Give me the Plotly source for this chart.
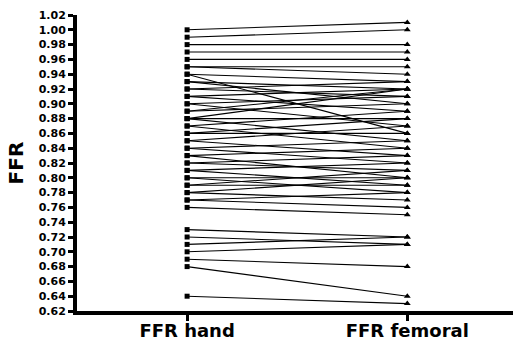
import plotly.graph_objects as go

categories = ["FFR hand", "FFR femoral"]
y_ticks = [round(0.62 + 0.02 * i, 2) for i in range(21)]

ffr_hand = [
    1.00, 0.99, 0.98, 0.97, 0.96, 0.95, 0.95, 0.94, 0.94, 0.93, 0.93,
    0.92, 0.92, 0.91, 0.91, 0.90, 0.90, 0.89, 0.89, 0.88, 0.88, 0.88,
    0.87, 0.87, 0.86, 0.86, 0.85, 0.85, 0.84, 0.84, 0.83, 0.83, 0.82,
    0.82, 0.81, 0.81, 0.80, 0.80, 0.79, 0.79, 0.78, 0.78, 0.77, 0.77,
    0.76, 0.73, 0.72, 0.71, 0.70, 0.69, 0.68, 0.64,
]
ffr_femoral = [
    1.01, 1.00, 0.98, 0.97, 0.96, 0.95, 0.94, 0.86, 0.93, 0.92, 0.90,
    0.93, 0.91, 0.92, 0.89, 0.91, 0.87, 0.90, 0.92, 0.92, 0.88, 0.85,
    0.89, 0.84, 0.88, 0.86, 0.87, 0.83, 0.85, 0.82, 0.84, 0.80, 0.83,
    0.81, 0.82, 0.79, 0.80, 0.78, 0.81, 0.79, 0.77, 0.80, 0.76, 0.78,
    0.75, 0.72, 0.71, 0.72, 0.71, 0.68, 0.64, 0.63,
]

FONT = "DejaVu Sans"

cat_pos = {c: i for i, c in enumerate(categories)}
lx, ly = [], []
for h, f in zip(ffr_hand, ffr_femoral):
    lx += [cat_pos[categories[0]], cat_pos[categories[1]], None]
    ly += [h, f, None]

fig = go.Figure()
fig.add_trace(go.Scatter(
    x=lx, y=ly, mode="lines",
    line=dict(color="black", width=1.1), hoverinfo="skip", showlegend=False,
))
fig.add_trace(go.Scatter(
    x=[cat_pos[categories[0]]] * len(ffr_hand), y=ffr_hand, mode="markers",
    marker=dict(symbol="square", size=5, color="black"), showlegend=False,
))
fig.add_trace(go.Scatter(
    x=[cat_pos[categories[1]]] * len(ffr_femoral), y=ffr_femoral, mode="markers",
    marker=dict(symbol="triangle-up", size=6, color="black"), showlegend=False,
))

fig.update_layout(
    width=515, height=343,
    margin=dict(l=77, r=2, t=15, b=32),
    paper_bgcolor="white", plot_bgcolor="white",
    font=dict(family=FONT, color="black"),
)
fig.update_xaxes(
    range=[-0.5, 1.48], automargin=False,
    tickmode="array", tickvals=[0, 1], ticktext=[f"<b>{c}</b>" for c in categories],
    tickfont=dict(family=FONT, size=18, color="black"),
    ticklabelstandoff=-6,
    showline=True, linecolor="black", linewidth=4,
    ticks="outside", ticklen=6, tickwidth=3, tickcolor="black",
    showgrid=False, zeroline=False,
)
fig.update_yaxes(
    range=[0.62, 1.02], automargin=False,
    tickmode="array", tickvals=y_ticks, ticktext=[f"<b>{v:.2f}</b>" for v in y_ticks],
    tickfont=dict(family=FONT, size=11, color="black"),
    showline=True, linecolor="black", linewidth=4,
    ticks="outside", ticklen=5, tickwidth=3, tickcolor="black",
    showgrid=False, zeroline=False,
    title=dict(text="<b>FFR</b>", font=dict(family=FONT, size=20, color="black"), standoff=11),
)

fig.write_html(
    "out.html",
    config={"displayModeBar": False},
    post_script="document.body.style.margin='0';document.body.style.padding='0';",
)
